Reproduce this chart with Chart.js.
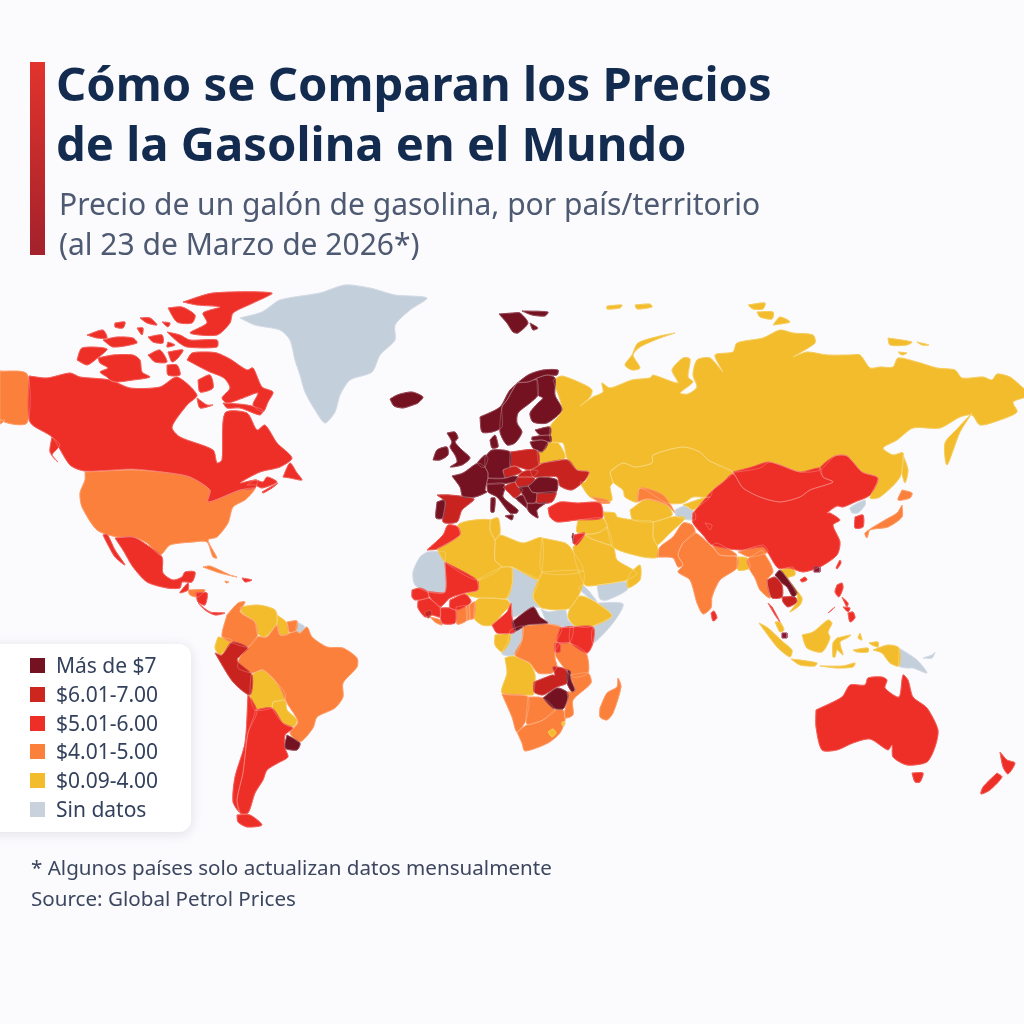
<!DOCTYPE html>
<html lang="es">
<head>
<meta charset="utf-8">
<title>Precios de la gasolina</title>
<script src="https://cdn.jsdelivr.net/npm/chart.js@4/dist/chart.umd.min.js"></script>
<style>
  html, body { margin: 0; padding: 0; background: #fbfafd; }
  body { width: 1024px; height: 1024px; position: relative; overflow: hidden; font-family: "Noto Sans", "Open Sans", sans-serif; }
  #map { position: absolute; left: 0; top: 0; }
  .bar { position: absolute; left: 30px; top: 62px; width: 15px; height: 193px; background: linear-gradient(#e2332c, #a3222c); }
  h1 { position: absolute; left: 56px; top: 53px; margin: 0; font-size: 47.2px; line-height: 60px; font-weight: 700; color: #132b4f; white-space: nowrap; }
  h2 { position: absolute; left: 59px; top: 184px; margin: 0; font-size: 30px; line-height: 40px; font-weight: 400; color: #4d5a72; white-space: nowrap; }
  .card { position: absolute; left: -20px; top: 644px; width: 211px; height: 188px; background: #fff; border-radius: 12px; box-shadow: 0 2px 12px rgba(60,70,100,.14); }
  .row { position: absolute; left: 56px; font-size: 21px; line-height: 29px; color: #33415c; white-space: nowrap; }
  .sw { position: absolute; left: 30px; width: 15px; height: 15px; }
  .note { position: absolute; left: 31px; font-size: 20.6px; line-height: 30px; color: #3c475f; white-space: nowrap; }
</style>
</head>
<body>
<canvas id="map" width="1024" height="1024"></canvas>
<div class="bar"></div>
<h1>Cómo se Comparan los Precios<br>de la Gasolina en el Mundo</h1>
<h2>Precio de un galón de gasolina, por país/territorio<br>(al 23 de Marzo de 2026*)</h2>
<div class="card"></div>
<div id="legend"></div>
<div class="note" style="top:852px">* Algunos países solo actualizan datos mensualmente</div>
<div class="note" style="top:883px">Source: Global Petrol Prices</div>
<script>
const noDataShapes = [
  [240,318,262,312,280,300,320,293,345,285,370,288,395,295,427,298,410,310,395,325,395,340,380,355,372,372,350,380,340,395,335,412,325,423,315,410,305,392,300,375,295,360,290,340,280,330,255,325],
  [427,552,445,552,445,562,445,592,428,592,415,585,413,572,420,557],
  [512,567,537,579,538,585,533,597,540,607,533,607,513,617,511,603,507,598,512,585],
  [541,609,548,612,565,610,568,620,575,627,563,627,548,623],
  [578,588,583,585,597,602,588,597],
  [597,603,623,604,613,623,593,643,593,627,612,616],
  [597,585,627,582,627,590,607,600,600,599],
  [510,630,523,626,522,640,515,655,502,654,507,643],
  [675,510,685,506,695,513,695,520,677,517],
  [705,523,712,525,710,530],
  [852,513,850,508,865,500,865,505,858,513],
  [899,648,917,660,927,673,913,668,907,668,899,666],
  [923,658,932,655,935,652,932,658],
  [297,622,305,627,300,633,296,630]
];
const under4Shapes = [
  [553,380,562,376,585,385,592,390,590,397,580,406,593,397,603,392,602,383,610,388,632,380,650,378,653,375,678,383,672,370,683,358,690,359,688,377,693,382,680,393,688,394,697,387,693,375,697,360,710,358,723,372,715,355,733,352,737,343,763,338,780,330,793,333,813,335,815,343,793,357,807,352,827,355,850,355,860,355,870,368,880,367,893,367,898,358,917,362,937,368,955,370,962,378,983,377,992,380,997,374,1010,377,1022,387,1030,395,1013,402,1017,412,1000,420,980,425,972,415,960,417,940,428,913,428,897,440,883,448,893,455,903,453,900,477,880,497,870,498,878,478,862,472,847,456,835,456,820,470,800,472,770,462,760,468,737,472,733,472,708,460,700,452,683,447,653,455,652,463,635,467,623,463,610,472,613,482,610,487,612,500,605,502,590,497,580,482,585,482,589,472,577,470,567,458,563,443,551,442,550,427,562,410],
  [610,472,623,463,635,467,652,463,653,455,683,447,700,452,708,460,733,472,723,482,713,490,710,497,693,497,683,503,667,503,640,488,637,502,625,497,623,490,613,482],
  [630,510,647,499,667,505,672,515,653,522,633,520],
  [683,505,697,500,710,497,693,510,688,507],
  [653,522,672,517,685,518,670,533,657,545,653,537],
  [603,512,615,513,617,517,633,520,653,522,653,537,657,545,658,557,643,557,613,547,607,527],
  [578,520,602,518,608,527,600,532,592,534,577,532],
  [592,534,600,532,607,527,612,545,592,539,585,535],
  [573,547,585,535,592,539,613,547,617,560,637,573,627,580,598,585,585,585,575,560],
  [630,573,640,565,640,580,628,588,627,581],
  [537,450,542,452,548,443,558,443,565,458,543,463,539,465],
  [903,455,908,470,905,483,902,473],
  [972,413,960,432,947,465,945,443,958,428],
  [675,333,660,338,640,347,633,355,640,368,632,370,625,365,632,355,638,343,660,336],
  [607,306,622,305,620,308,607,309],
  [635,305,650,304,652,307,637,309],
  [748,305,765,303,763,309,753,309],
  [757,312,773,312,772,319,760,317],
  [773,325,780,317,790,322],
  [888,338,912,342,907,345,890,345],
  [917,342,929,345,922,345],
  [898,352,907,353,902,355],
  [437,549,460,535,458,525,468,521,490,520,490,530,495,540,495,560,502,567,477,580,445,562],
  [490,520,498,518,500,533,495,540,490,530],
  [495,540,500,535,523,543,542,538,542,572,538,580,512,567,502,567,495,560],
  [542,538,565,543,570,547,583,571,542,572],
  [542,572,583,571,583,585,570,608,542,608,533,597,538,580],
  [477,580,502,567,512,568,512,585,507,598,493,598,480,598,465,594,478,590],
  [475,602,480,598,507,600,510,605,503,613,492,625,482,625,474,618],
  [570,608,580,596,597,603,612,616,590,627,575,626,568,617],
  [495,635,510,634,509,643,502,652,495,645],
  [505,658,513,656,530,664,535,675,534,692,533,695,502,693,507,673],
  [759,623,768,628,783,642,792,650,790,657,778,648,770,638],
  [791,659,800,660,817,663,815,666,800,665],
  [820,666,843,666,855,663,853,667,837,668],
  [802,635,813,632,828,620,832,623,828,632,830,638,822,652,807,648],
  [837,638,851,635,847,638,840,642,843,655,837,650,835,657,833,657,833,643],
  [860,633,862,640,858,638],
  [853,650,868,648,868,652,857,652],
  [869,643,878,642,878,647,872,645],
  [873,650,888,645,899,648,899,666,890,663,882,653],
  [775,622,780,622,784,630,780,632],
  [780,570,793,567,795,575,788,578,802,598,800,605,790,612,797,602,797,595,787,578],
  [737,557,747,558,750,568,738,570],
  [240,607,258,605,275,610,277,623,265,637,257,633,255,622,242,613],
  [277,615,287,623,288,634,280,635,277,625],
  [218,637,232,640,228,647,220,655,215,648],
  [251,675,263,670,277,683,285,693,285,700,273,702,272,708,255,710,250,695],
  [273,702,285,700,287,710,297,720,293,727,283,723,272,708]
];
const from4Shapes = [
  [0,371,27,374,27,423,0,419],
  [0,420,5,420,0,424],
  [85,472,133,470,170,473,190,477,210,490,208,502,240,490,255,488,252,493,245,500,233,507,228,523,217,537,208,540,217,558,213,557,207,542,193,542,170,545,160,555,147,543,133,537,117,537,97,530,82,507,80,493,85,480],
  [203,567,210,566,230,575,237,577,220,573],
  [225,581,229,582,226,583],
  [188,590,205,590,198,597,190,595],
  [227,615,238,603,245,602,240,612,255,622,257,637,248,647,230,642,222,636],
  [287,622,297,621,296,631,289,632],
  [248,648,257,637,267,637,277,625,280,635,288,634,296,631,300,633,307,627,312,637,327,647,343,648,357,658,357,667,343,683,343,697,335,708,317,717,313,728,300,742,290,733,298,722,287,703,277,683,263,670,252,673,238,668,240,657],
  [592,497,607,500,610,503,600,503],
  [637,502,640,488,663,495,675,513,667,505,647,499],
  [657,557,660,547,673,537,683,523,692,525,695,533,683,543,678,555,683,565,678,567,673,558],
  [683,543,695,533,712,547,720,555,737,557,737,568,720,580,712,597,711,608,703,614,697,603,690,580,678,572,683,565,678,555],
  [712,545,717,543,737,555,720,555],
  [738,552,763,545,768,552,750,557],
  [762,550,770,563,773,572,767,580,770,598,760,590,755,578,750,570,747,560],
  [902,505,902,517,888,527,870,530,867,538,865,533,885,520,897,513],
  [902,490,912,493,910,498,898,500],
  [430,617,440,620,442,625,435,622],
  [456,607,466,606,467,620,457,624],
  [466,606,469,605,470,619,467,620],
  [469,605,475,602,474,618,470,619],
  [523,626,548,624,562,628,556,643,555,658,557,667,552,673,538,673,530,663,515,655,522,640],
  [560,643,570,643,586,653,588,673,573,677,557,658,555,652],
  [570,675,588,673,591,683,573,700,573,715,565,718,565,710,568,698,567,692,572,692,575,690],
  [502,694,528,697,526,720,517,732,512,717],
  [528,697,543,698,555,710,543,720,528,725,526,720],
  [517,732,527,725,543,720,555,710,563,710,565,720,560,733,548,743,525,751,522,743],
  [600,708,607,693,617,687,618,678,621,687,613,713,607,720,600,717]
];
const from5Shapes = [
  [29,376,47,378,70,373,80,377,110,380,130,388,160,387,177,377,197,395,187,405,172,427,180,437,213,450,217,463,222,460,225,413,247,413,257,430,265,425,277,443,292,458,280,467,260,472,240,483,257,480,255,488,240,490,208,502,210,490,190,477,170,473,133,469,85,471,70,465,52,437,30,422],
  [183,302,213,293,272,293,253,303,233,313,230,323,217,335,190,333,207,323,203,313,220,307,197,305],
  [168,308,182,307,195,315,192,323,177,322],
  [87,335,103,330,107,338,97,338],
  [103,340,117,337,133,338,137,343,113,347],
  [115,323,125,322,123,328,115,327],
  [140,318,150,318,157,325,147,323],
  [162,322,170,323,168,327],
  [137,328,143,328,142,335],
  [148,337,162,335,163,343,153,342],
  [168,342,175,345,167,347],
  [167,332,180,335,190,340,217,340,217,347,187,347,178,342],
  [77,360,82,348,107,349,95,360,87,365],
  [98,358,113,355,133,355,140,360,142,372,150,377,133,380,113,382,107,377,100,372,108,368,100,363],
  [148,355,160,350,167,362,155,362],
  [168,352,183,350,178,358,172,362],
  [167,365,177,365,180,375,168,375],
  [187,360,192,353,207,352,217,353,230,359,247,370,253,368,262,387,273,392,268,402,263,412,253,405,258,393,243,398,227,403,222,398,230,388,224,378,210,372,200,367],
  [198,380,210,375,213,388,200,392],
  [223,403,247,405,263,410,260,415,240,408,227,408],
  [197,398,207,405,213,405,200,408],
  [283,477,290,463,297,473,302,480,290,478],
  [262,492,278,483,272,488,263,493],
  [247,485,255,480,263,482,267,477,277,482,262,488,255,485],
  [52,437,60,445,52,455,58,462,50,452],
  [115,538,133,537,147,545,162,557,163,573,173,580,182,577,185,572,195,572,192,582,182,582,180,588,167,588,147,582,133,567,123,550],
  [103,535,107,534,115,550,125,565,115,557,107,543],
  [180,592,188,583,188,590,180,593],
  [196,593,207,593,205,605,198,602],
  [198,603,210,612,225,613,215,615,205,610],
  [242,578,252,580,245,582],
  [255,710,272,708,283,723,293,728,285,735,285,748,288,757,278,763,267,770,263,780,255,793,248,813,240,813,237,800,243,773,248,733,255,713],
  [248,695,252,700,257,712,248,733,243,773,237,800,240,813,233,802,235,777,245,743],
  [237,815,250,815,262,825,247,827,238,822],
  [548,508,560,502,577,503,600,503,602,518,577,520,557,522,550,517],
  [427,550,443,535,448,525,458,527,460,535,437,549],
  [445,562,477,580,478,590,465,593,450,598,440,607,432,600,428,592,445,592],
  [412,590,420,588,428,592,428,598,415,600,412,597],
  [418,601,428,598,433,601,440,607,440,617,432,615,425,617,418,608],
  [450,600,465,594,471,602,458,610,450,608],
  [440,608,450,608,456,611,455,623,442,623],
  [492,625,507,612,511,603,512,617,515,632,497,633,493,627],
  [560,628,573,627,570,642,557,642],
  [570,627,593,627,593,643,587,653,570,642],
  [555,643,560,643,560,652,555,652],
  [574,535,585,533,577,545,573,543],
  [693,513,713,490,723,482,733,474,743,488,760,497,780,502,800,497,810,490,833,482,823,477,820,468,835,456,847,456,862,472,878,478,870,495,855,502,843,507,837,506,827,513,830,513,840,520,833,525,840,542,837,555,820,567,803,572,790,568,778,568,768,553,763,547,740,550,712,545,703,535,693,523],
  [733,472,752,467,768,462,780,465,800,472,820,468,823,477,833,482,810,490,800,497,780,502,760,497,743,488,735,475],
  [855,517,863,515,863,527,855,528],
  [800,580,805,577,807,580,802,582],
  [836,568,840,560,841,563,837,569],
  [711,613,714,611,717,618,713,621],
  [837,585,842,583,843,588,839,597,835,592],
  [848,613,853,612,855,618,850,622],
  [842,597,848,603,847,607],
  [843,607,850,608,848,612],
  [828,613,835,607,833,609],
  [816,710,842,697,850,685,865,685,868,678,882,677,887,680,885,688,899,697,903,675,908,680,913,697,927,708,938,730,935,747,927,762,907,765,893,757,892,745,888,750,870,739,853,743,837,750,822,750,816,727],
  [912,773,923,773,920,782,915,782],
  [1000,752,1007,760,1015,763,1008,774,1003,767],
  [997,773,1002,777,990,790,981,794,983,787],
  [768,603,772,607,780,622,775,615]
];
const from6Shapes = [
  [215,653,222,655,232,642,248,648,237,660,252,675,250,695,233,682],
  [510,452,537,450,539,465,530,470,515,466,510,467],
  [503,470,510,467,515,466,522,472,512,476,505,478],
  [522,472,530,470,538,471,533,477,518,477],
  [515,482,518,477,533,477,535,480,528,486,518,487],
  [530,470,539,465,543,463,568,460,577,470,589,472,585,480,572,490,560,486,557,477,540,477,533,477],
  [537,493,556,492,552,502,537,503],
  [503,487,515,482,518,487,523,490,515,498,508,492],
  [437,495,450,495,474,499,462,510,457,522,443,522,445,502],
  [534,682,552,675,555,675,553,667,567,670,567,683,557,687,543,695,534,692],
  [767,580,775,577,782,585,782,597,772,598,768,588],
  [782,597,795,597,797,602,788,607,783,602],
  [424,613,430,610,432,614,428,618]
];
const over7Shapes = [
  [390,399,395,396,400,394,412,392,423,397,418,403,413,405,403,408,394,406],
  [499,314,513,313,520,313,528,323,518,333,513,332,507,323],
  [522,311,548,312,545,316,532,315],
  [530,323,538,328,533,330],
  [480,417,500,407,510,390,528,375,543,370,558,370,557,375,547,375,537,378,528,382,517,383,507,400,502,407,502,427,492,432,482,432],
  [517,383,528,382,537,380,538,395,530,403,518,413,517,423,522,432,515,443,507,445,500,432,502,407,507,400],
  [537,378,547,375,555,378,555,395,562,410,547,423,533,422,530,413,538,403,543,398,538,395],
  [535,430,550,427,550,435,540,435],
  [532,437,550,435,551,442,542,440,532,440],
  [530,442,542,440,548,443,542,452,533,448],
  [490,440,495,435,497,440,498,447,492,448],
  [447,433,455,432,458,438,455,442,462,450,470,458,462,465,450,467,457,462,455,455,450,447,452,442],
  [433,460,437,450,447,447,448,455,440,460],
  [452,476,463,473,478,463,485,467,488,473,488,478,485,490,487,492,475,497,463,497,460,487],
  [477,463,485,455,488,458,485,467,481,467],
  [485,457,492,450,510,452,510,467,503,470,505,478,488,478,488,473,485,467],
  [488,478,505,478,512,476,518,477,515,482,487,484],
  [528,486,535,480,540,477,557,480,556,492,537,493,532,492],
  [518,487,528,486,532,492,537,493,535,503,527,503,523,495],
  [515,498,523,495,527,503,527,508],
  [527,503,540,503,547,502,537,510,538,518,530,513,527,508],
  [487,484,503,483,505,488,503,497,518,510,517,513,510,513,497,497,488,492],
  [491,498,495,498,494,512,491,512],
  [505,516,513,515,512,520],
  [437,502,445,500,443,518,436,518],
  [572,537,573,533,574,543],
  [512,622,533,607,540,617,548,623,527,625,515,631],
  [543,698,557,688,567,692,568,698,563,709,553,708],
  [567,670,570,671,571,680,575,690,572,692,567,683],
  [287,735,300,743,297,750,285,748],
  [775,575,780,570,787,578,797,593,793,597,787,587,782,583]
];
const lesothoShapes = [
  [548,732,553,729,556,733,552,737],
  [562,722,565,722,564,726,562,725]
];
// single small markers for Hong Kong and Singapore
const markerShapes = [
  [814,567,820,567,820,572,814,572],
  [782,633,787,633,787,638,782,638]
];

const legendLabels = ["Más de $7", "$6.01-7.00", "$5.01-6.00", "$4.01-5.00", "$0.09-4.00", "Sin datos"];
const legendColors = ["#751221", "#cc261f", "#ee2f27", "#fb803c", "#f2bc2c", "#c9d1dc"];

// painted from back to front
const layers = [
  [noDataShapes, "#c4cfdc"],
  [under4Shapes, "#f2bc2c"],
  [from4Shapes, "#fb803c"],
  [from5Shapes, "#ee2f27"],
  [from6Shapes, "#c9231f"],
  [over7Shapes, "#751221"],
  [lesothoShapes, "#f2bc2c"],
  [markerShapes, "#8a1530"]
];

function outline(flat) {
  let pts = [];
  for (let i = 0; i < flat.length; i += 2) {
    pts.push({ x: flat[i], y: flat[i + 1] });
  }
  pts.push(pts[0]);
  return pts;
}

let datasets = [];
// first pass: fill plus a stroke of the same colour, closes the hairline gaps between neighbours
layers.forEach(layer => {
  layer[0].forEach(flat => {
    datasets.push({
      data: outline(flat),
      showLine: true,
      fill: "shape",
      backgroundColor: layer[1],
      borderColor: layer[1],
      borderWidth: 1,
      pointRadius: 0,
      tension: layer[0] === markerShapes ? 0 : 0.25,
      order: -datasets.length
    });
  });
});
// second pass: thin white country lines on top, very faint so the coasts stay clean
layers.forEach(layer => {
  layer[0].forEach(flat => {
    datasets.push({
      data: outline(flat),
      showLine: true,
      fill: false,
      borderColor: "rgba(255,255,255,0.55)",
      borderWidth: 0.4,
      pointRadius: 0,
      tension: layer[0] === markerShapes ? 0 : 0.25,
      order: -datasets.length
    });
  });
});

new Chart(document.getElementById("map"), {
  type: "scatter",
  data: { datasets: datasets },
  options: {
    responsive: false,
    animation: false,
    devicePixelRatio: 1,
    layout: { padding: 0 },
    plugins: { legend: { display: false }, tooltip: { enabled: false } },
    scales: {
      x: { type: "linear", min: 0, max: 1024, display: false },
      y: { type: "linear", min: 0, max: 1024, reverse: true, display: false }
    }
  }
});

const legend = document.getElementById("legend");
legendLabels.forEach((label, i) => {
  const top = 651 + i * 28.8;
  const sw = document.createElement("div");
  sw.className = "sw";
  sw.style.top = (top + 7) + "px";
  sw.style.background = legendColors[i];
  legend.appendChild(sw);
  const row = document.createElement("div");
  row.className = "row";
  row.style.top = top + "px";
  row.textContent = label;
  legend.appendChild(row);
});
</script>
</body>
</html>
